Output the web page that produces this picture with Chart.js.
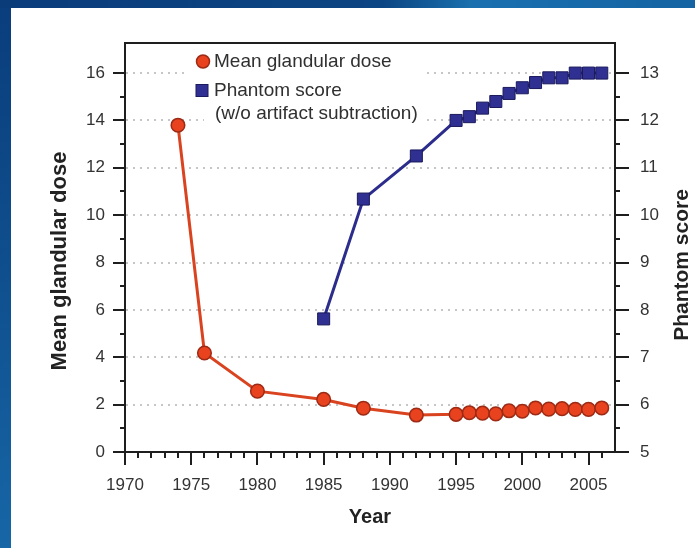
<!DOCTYPE html>
<html>
<head>
<meta charset="utf-8">
<script src="https://cdn.jsdelivr.net/npm/chart.js@4.4.1/dist/chart.umd.min.js"></script>
<style>
  html, body { margin: 0; padding: 0; }
  body { width: 695px; height: 548px; overflow: hidden; position: relative;
         background: linear-gradient(180deg, #0a3d7b 0%, #0f4f8e 50%, #1766a6 100%); }
  #topband { position: absolute; left: 0; top: 0; width: 695px; height: 8px;
         background: linear-gradient(90deg, #0a3c7a 0%, #0c4583 55%, #1a70ae 68%, #1463a3 100%); }
  #paper { position: absolute; left: 11px; top: 8px; width: 684px; height: 540px; background: #ffffff; }
  #wrap { position: absolute; left: 0; top: 0; width: 695px; height: 548px; }
</style>
</head>
<body>
<div id="topband"></div>
<div id="paper"></div>
<div id="wrap"><canvas id="c" width="695" height="548"></canvas></div>
<script>
// ---- data ----
const doseYears = [1974, 1976, 1980, 1985, 1988, 1992, 1995, 1996, 1997, 1998, 1999, 2000, 2001, 2002, 2003, 2004, 2005, 2006];
const doseValues = [13.8, 4.18, 2.57, 2.22, 1.85, 1.56, 1.59, 1.66, 1.64, 1.61, 1.74, 1.72, 1.86, 1.81, 1.83, 1.80, 1.80, 1.86];
const phantomYears = [1985, 1988, 1992, 1995, 1996, 1997, 1998, 1999, 2000, 2001, 2002, 2003, 2004, 2005, 2006];
const phantomValues = [7.81, 10.34, 11.25, 12.0, 12.08, 12.26, 12.4, 12.57, 12.69, 12.8, 12.9, 12.9, 13.0, 13.0, 13.0];
const yearTickLabels = [1970, 1975, 1980, 1985, 1990, 1995, 2000, 2005];
const doseTickLabels = [0, 2, 4, 6, 8, 10, 12, 14, 16];
const phantomTickLabels = [5, 6, 7, 8, 9, 10, 11, 12, 13];
const seriesNames = ['Mean glandular dose', 'Phantom score'];
const legendSubLabel = '(w/o artifact subtraction)';
const xTitle = 'Year';
const yLeftTitle = 'Mean glandular dose';
const yRightTitle = 'Phantom score';

const FONT = '"Liberation Sans", Arial, Helvetica, sans-serif';
const RED = '#e8421e', RED_EDGE = '#9c2a15', RED_LINE = '#d9431f';
const BLUE = '#2f3091', BLUE_EDGE = '#1a1a5c', BLUE_LINE = '#2b2c8c';
const AXIS = '#1e1e1e';

const decor = {
  id: 'decor',
  beforeDatasetsDraw(chart) {
    const ctx = chart.ctx;
    ctx.save();
    // legend background (covers grid dots)
    ctx.fillStyle = '#ffffff';
    ctx.fillRect(188, 48, 236, 52);
    ctx.fillRect(204, 100, 220, 26);
    // legend markers
    ctx.beginPath();
    ctx.arc(203, 61.5, 6.5, 0, Math.PI * 2);
    ctx.fillStyle = RED; ctx.fill();
    ctx.lineWidth = 1.5; ctx.strokeStyle = RED_EDGE; ctx.stroke();
    ctx.fillStyle = BLUE; ctx.fillRect(196, 84.5, 12, 12);
    ctx.lineWidth = 1; ctx.strokeStyle = BLUE_EDGE; ctx.strokeRect(196, 84.5, 12, 12);
    // legend text
    ctx.fillStyle = '#303030';
    ctx.font = '19px ' + FONT;
    ctx.textAlign = 'left'; ctx.textBaseline = 'middle';
    ctx.fillText(seriesNames[0], 214, 62);
    ctx.fillText(seriesNames[1], 214, 91);
    ctx.fillText(legendSubLabel, 215, 114);
    ctx.restore();
  },
  afterDraw(chart) {
    const ctx = chart.ctx;
    const a = chart.chartArea;
    const sx = chart.scales.x, sy = chart.scales.y, sy2 = chart.scales.y2;
    ctx.save();
    ctx.strokeStyle = AXIS;
    ctx.lineWidth = 2;
    ctx.lineCap = 'butt';
    // frame
    ctx.strokeRect(a.left, a.top, a.right - a.left, a.bottom - a.top);
    // left ticks
    ctx.beginPath();
    for (let v = 0; v <= 16; v++) {
      const y = Math.round(sy.getPixelForValue(v));
      const len = v % 2 === 0 ? 12 : 5;
      ctx.moveTo(a.left - len, y); ctx.lineTo(a.left, y);
    }
    // right ticks
    for (let v = 5; v <= 13; v += 0.5) {
      const y = Math.round(sy2.getPixelForValue(v));
      const len = Number.isInteger(v) ? 14 : 5;
      ctx.moveTo(a.right, y); ctx.lineTo(a.right + len, y);
    }
    // bottom ticks
    for (let yr = 1970; yr <= 2006; yr++) {
      const x = Math.round(sx.getPixelForValue(yr));
      const len = yr % 5 === 0 ? 13 : 6;
      ctx.moveTo(x, a.bottom); ctx.lineTo(x, a.bottom + len);
    }
    ctx.stroke();
    // vertical axis titles (both read bottom-to-top)
    ctx.fillStyle = '#222222';
    ctx.textAlign = 'center'; ctx.textBaseline = 'middle';
    ctx.save();
    ctx.font = 'bold 22px ' + FONT;
    ctx.translate(60, 261); ctx.rotate(-Math.PI / 2);
    ctx.fillText(yLeftTitle, 0, 0);
    ctx.restore();
    ctx.save();
    ctx.font = 'bold 21px ' + FONT;
    ctx.translate(682, 265); ctx.rotate(-Math.PI / 2);
    ctx.fillText(yRightTitle, 0, 0);
    ctx.restore();
    ctx.restore();
  }
};

new Chart(document.getElementById('c'), {
  type: 'line',
  data: {
    datasets: [
      {
        label: seriesNames[0],
        yAxisID: 'y',
        data: doseYears.map((yr, i) => ({ x: yr, y: doseValues[i] })),
        borderColor: RED_LINE, borderWidth: 3,
        backgroundColor: RED, pointBackgroundColor: RED, pointBorderColor: RED_EDGE,
        pointBorderWidth: 1.5, pointRadius: 6.8, pointStyle: 'circle', tension: 0
      },
      {
        label: seriesNames[1],
        yAxisID: 'y2',
        data: phantomYears.map((yr, i) => ({ x: yr, y: phantomValues[i] })),
        borderColor: BLUE_LINE, borderWidth: 3,
        backgroundColor: BLUE, pointBackgroundColor: BLUE, pointBorderColor: BLUE_EDGE,
        pointBorderWidth: 1, pointRadius: 8.5, pointStyle: 'rect', tension: 0
      }
    ]
  },
  options: {
    responsive: false,
    animation: false,
    devicePixelRatio: 1,
    layout: { padding: { top: 43, left: 0, right: 0, bottom: 0 } },
    plugins: { legend: { display: false }, title: { display: false }, tooltip: { enabled: false } },
    scales: {
      x: {
        type: 'linear', position: 'bottom', min: 1970, max: 2007,
        afterFit(s) { s.height = 96; },
        ticks: {
          stepSize: 1, autoSkip: false, maxRotation: 0, minRotation: 0, includeBounds: false,
          callback: v => yearTickLabels.includes(v) ? String(v) : '',
          font: { family: FONT, size: 17 }, color: '#333333', padding: 23
        },
        grid: { drawOnChartArea: false, drawTicks: false },
        border: { display: false },
        title: { display: true, text: xTitle, color: '#222222',
                 font: { family: FONT, size: 20, weight: 'bold' }, padding: { top: 0, bottom: 19 } }
      },
      y: {
        type: 'linear', position: 'left', min: 0, max: 17.27,
        afterFit(s) { s.width = 125; },
        ticks: {
          stepSize: 1, autoSkip: false, includeBounds: false,
          callback: v => doseTickLabels.includes(v) ? String(v) : '',
          font: { family: FONT, size: 17 }, color: '#333333', padding: 20
        },
        grid: {
          drawTicks: false, lineWidth: 2,
          color: c => (c.tick && c.tick.value > 0 && c.tick.value <= 16 && c.tick.value % 2 === 0) ? '#c6c6c6' : 'rgba(0,0,0,0)'
        },
        border: { display: false, dash: [2, 5], dashOffset: -8 }
      },
      y2: {
        type: 'linear', position: 'right', min: 5, max: 13.635,
        afterFit(s) { s.width = 80; },
        ticks: {
          stepSize: 0.5, autoSkip: false, includeBounds: false,
          callback: v => phantomTickLabels.includes(v) ? String(v) : '',
          font: { family: FONT, size: 17 }, color: '#333333', padding: 25
        },
        grid: { drawOnChartArea: false, drawTicks: false },
        border: { display: false }
      }
    }
  },
  plugins: [decor]
});
</script>
</body>
</html>
